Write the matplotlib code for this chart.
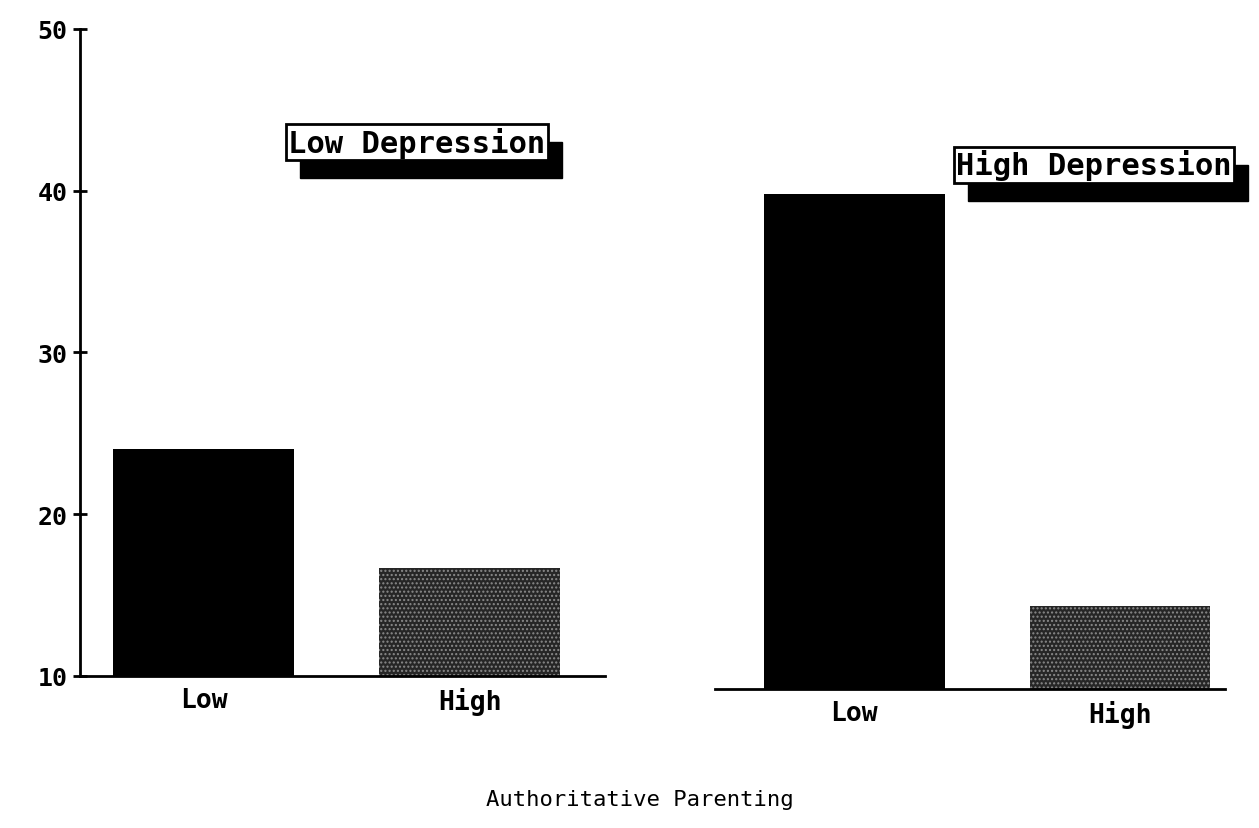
import matplotlib
matplotlib.use("Agg")
import matplotlib.pyplot as plt
from matplotlib.patches import Rectangle

categories = ["Low", "High"]
low_depression = [24.0, 16.7]
high_depression = [40.6, 15.1]
panel_titles = ["Low Depression", "High Depression"]
yticks = [10, 20, 30, 40, 50]
xlabel = "Authoritative Parenting"

fig = plt.figure(figsize=(12.59, 8.29), dpi=100)
mono = "DejaVu Sans Mono"
bar_colors = ["black", "#262626"]
hatches = [None, "...."]

axL = fig.add_axes([0.0635, 0.1834, 0.417, 0.7805])
axR = fig.add_axes([0.568, 0.1677, 0.405, 0.7805])

for ax, vals, xl in [(axL, low_depression, (-0.466, 1.508)), (axR, high_depression, (-0.523, 1.395))]:
    x = list(range(len(categories)))
    for i, v in enumerate(vals):
        ax.bar(x[i], v - 10, bottom=10, width=0.68, color=bar_colors[i],
               hatch=hatches[i], edgecolor="#8a8a8a" if hatches[i] else "black",
               linewidth=0)
    ax.set_xlim(*xl)
    ax.set_ylim(10, 50)
    ax.set_xticks(x)
    ax.set_xticklabels(categories, fontfamily=mono, fontweight="bold", fontsize=19)
    ax.tick_params(axis="x", length=0, pad=8)
    for s in ["top", "right"]:
        ax.spines[s].set_visible(False)
    ax.spines["bottom"].set_linewidth(2)

axL.set_yticks(yticks)
axL.set_yticklabels([str(t) for t in yticks], fontfamily=mono, fontweight="bold", fontsize=18)
axL.tick_params(axis="y", direction="inout", length=10, width=2, pad=4)
axL.spines["left"].set_linewidth(2)
axR.spines["left"].set_visible(False)
axR.set_yticks([])

# panel titles with drop shadow
titles = []
for txt, (fx, fy) in zip(panel_titles, [(0.331, 0.8275), (0.869, 0.80)]):
    t = fig.text(fx, fy, txt, ha="center", va="center", fontfamily=mono,
                 fontweight="bold", fontsize=22, color="black", zorder=5,
                 bbox=dict(boxstyle="square,pad=0.08", fc="white", ec="black", lw=2))
    titles.append(t)

fig.canvas.draw()
renderer = fig.canvas.get_renderer()
W, H = fig.bbox.width, fig.bbox.height
for t in titles:
    bb = t.get_bbox_patch().get_window_extent(renderer)
    dx, dy = 14, -18
    fig.patches.append(Rectangle(((bb.x0 + dx) / W, (bb.y0 + dy) / H),
                                 bb.width / W, bb.height / H,
                                 transform=fig.transFigure, facecolor="black",
                                 edgecolor="black", zorder=4))

fig.text(0.508, 1 - 800 / 829, xlabel, ha="center", va="center",
         fontfamily=mono, fontsize=16)

fig.savefig("out.png", dpi=100)
